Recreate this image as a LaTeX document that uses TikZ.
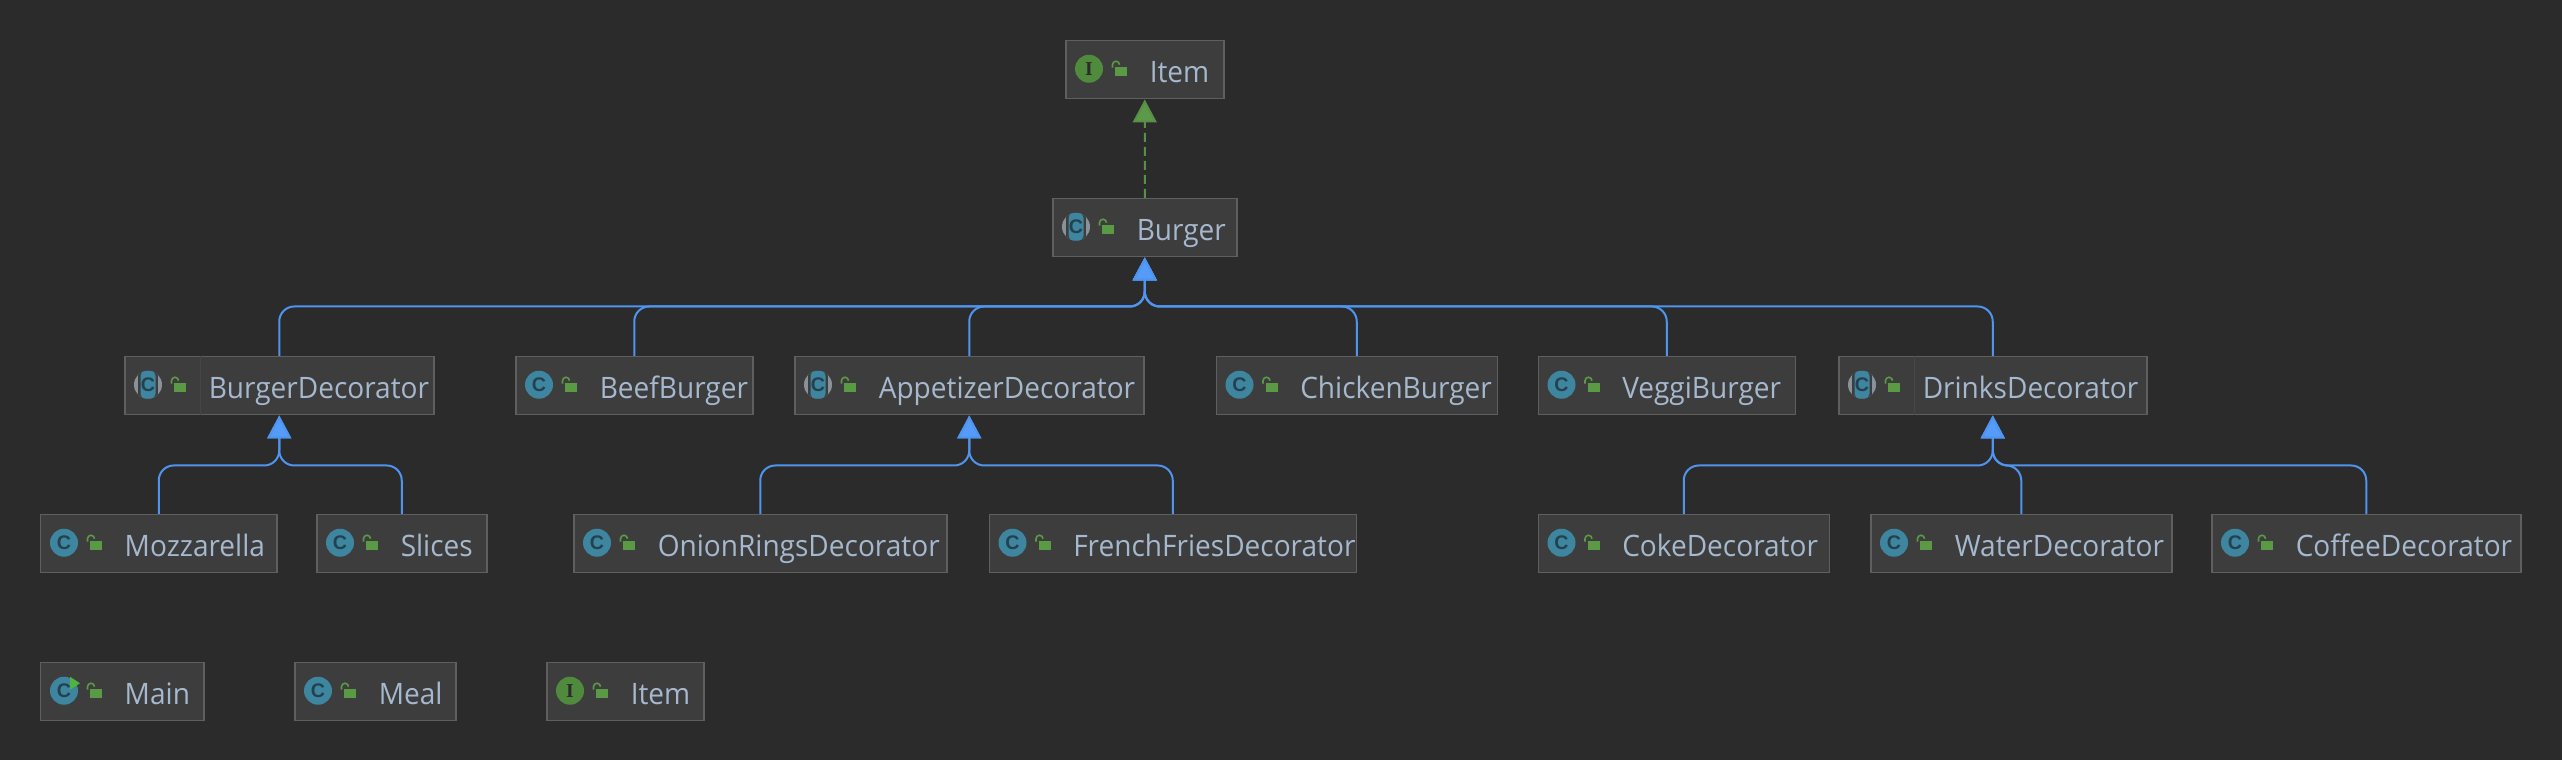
\documentclass[tikz,border=0pt]{standalone}
\usepackage{fontspec}
\usepackage{xcolor}
\usepackage{tikz}
\usetikzlibrary{arrows.meta}
\setmainfont[FakeStretch=0.95]{Open Sans}
\newfontfamily\serifglyph{Liberation Serif}
\newfontfamily\sansglyph{Liberation Sans}
\definecolor{bgdark}{HTML}{2B2B2B}
\definecolor{boxfill}{HTML}{3D3D3D}
\definecolor{boxline}{HTML}{5F5F5F}
\definecolor{divline}{HTML}{464646}
\definecolor{labeltext}{HTML}{A6B8CE}
\definecolor{linkblue}{HTML}{4F94EE}
\definecolor{tipblue}{HTML}{559BFA}
\definecolor{linkgreen}{HTML}{5A8F47}
\definecolor{tipgreen}{HTML}{5C994A}
\definecolor{classblue}{HTML}{3E86A0}
\definecolor{ifacegreen}{HTML}{4F8A3D}
\definecolor{lockgreen}{HTML}{5A9A45}
\definecolor{playgreen}{HTML}{4FB33F}
\definecolor{absgray}{HTML}{8A9199}
\definecolor{glyphdark}{HTML}{24414F}
\tikzstyle{cbox} = [rectangle, anchor=north west, draw=boxline, fill=boxfill, line width=0.015cm, text=labeltext, font=\fontsize{8.4pt}{10pt}\selectfont, minimum height=0.58cm, inner xsep=0pt, inner ysep=0pt, text height=0.30cm, text depth=0.04cm, text width=#1cm, align=left, execute at begin node={\hyphenpenalty=10000\hspace*{0.84cm}}]
\tikzstyle{cglyph} = [inner sep=0pt, text=glyphdark, font=\sansglyph\bfseries\fontsize{5.6pt}{6pt}\selectfont]
\tikzstyle{iglyph} = [inner sep=0pt, text=bgdark, font=\serifglyph\bfseries\fontsize{5.6pt}{6pt}\selectfont]
\tikzstyle{arrow} = [line width=0.02cm, draw=linkblue, rounded corners=0.15cm, -{Triangle[length=0.23cm,width=0.24cm,fill=tipblue]}]
\tikzstyle{implarrow} = [line width=0.02cm, draw=linkgreen, dash pattern=on 0.09cm off 0.05cm, -{Triangle[length=0.23cm,width=0.24cm,fill=tipgreen]}]
\tikzset{
  lockicon/.pic={
    \fill [lockgreen] (0.50,-0.067) rectangle (0.623,0.023);
    \draw [lockgreen, line width=0.016cm] (0.475,0.02) -- (0.475,0.05) arc (180:0:0.035);
  },
  classicon/.pic={
    \fill [classblue] (0.24,0.01) circle (0.14);
    \node (-c) [cglyph] at (0.24,0.01) {C};
    \pic {lockicon};
  },
  absicon/.pic={
    \begin{scope}
      \clip (0.24,0.01) circle (0.14);
      \fill [absgray] (0.1,-0.13) rectangle (0.38,0.15);
      \fill [boxfill] (0.14,-0.13) rectangle (0.34,0.15);
      \fill [classblue, rounded corners=0.05cm] (0.165,-0.13) rectangle (0.315,0.15);
    \end{scope}
    \node (-c) [cglyph] at (0.24,0.01) {C};
    \pic {lockicon};
  },
  ifaceicon/.pic={
    \fill [ifacegreen] (0.24,0.01) circle (0.14);
    \node (-i) [iglyph] at (0.24,0.01) {I};
    \pic {lockicon};
  }
}

\begin{document}
\begin{tikzpicture}
\fill [bgdark] (0,0) rectangle (25.62,-7.6);
\useasboundingbox (0,0) rectangle (25.62,-7.6);

\node (item) [cbox=1.58, xshift=10.65cm, yshift=-0.40cm] {Item};
\node (burger) [cbox=1.84, xshift=10.52cm, yshift=-1.98cm] {Burger};

\node (burgerdec) [cbox=3.09, xshift=1.24cm, yshift=-3.56cm] {BurgerDecorator};
\node (beef) [cbox=2.37, xshift=5.15cm, yshift=-3.56cm] {BeefBurger};
\node (appetizer) [cbox=3.49, xshift=7.94cm, yshift=-3.56cm] {AppetizerDecorator};
\node (chicken) [cbox=2.81, xshift=12.155cm, yshift=-3.56cm] {ChickenBurger};
\node (veggi) [cbox=2.57, xshift=15.375cm, yshift=-3.56cm] {VeggiBurger};
\node (drinks) [cbox=3.08, xshift=18.38cm, yshift=-3.56cm] {DrinksDecorator};

\node (mozzarella) [cbox=2.36, xshift=0.40cm, yshift=-5.14cm] {Mozzarella};
\node (slices) [cbox=1.70, xshift=3.16cm, yshift=-5.14cm] {Slices};
\node (onion) [cbox=3.73, xshift=5.73cm, yshift=-5.14cm] {OnionRingsDecorator};
\node (fries) [cbox=3.67, xshift=9.885cm, yshift=-5.14cm] {FrenchFriesDecorator};
\node (coke) [cbox=2.91, xshift=15.375cm, yshift=-5.14cm] {CokeDecorator};
\node (water) [cbox=3.01, xshift=18.70cm, yshift=-5.14cm] {WaterDecorator};
\node (coffee) [cbox=3.09, xshift=22.11cm, yshift=-5.14cm] {CoffeeDecorator};

\node (main) [cbox=1.63, xshift=0.40cm, yshift=-6.62cm] {Main};
\node (meal) [cbox=1.61, xshift=2.94cm, yshift=-6.62cm] {Meal};
\node (itemkey) [cbox=1.57, xshift=5.46cm, yshift=-6.62cm] {Item};

\foreach \n in {beef, chicken, veggi, mozzarella, slices, onion, fries, coke, water, coffee, main, meal}
  \pic at (\n.west) {classicon};
\foreach \n in {burger, burgerdec, appetizer, drinks}
  \pic at (\n.west) {absicon};
\foreach \n in {item, itemkey}
  \pic at (\n.west) {ifaceicon};
\fill [playgreen] ([shift={(0.30,0.15)}]main.west) -- ([shift={(0.40,0.085)}]main.west) -- ([shift={(0.30,0.02)}]main.west) -- cycle;
\foreach \n in {burgerdec, drinks}
  \draw [divline, line width=0.01cm] ([xshift=0.76cm]\n.north west) -- ([xshift=0.76cm]\n.south west);

\draw [implarrow] (burger.north) -- (item.south);

\foreach \c in {burgerdec, beef, appetizer, chicken, veggi, drinks}
  \draw [arrow] (\c.north) |- ([yshift=-0.49cm]burger.south) -- (burger.south);
\foreach \c in {mozzarella, slices}
  \draw [arrow] (\c.north) |- ([yshift=-0.50cm]burgerdec.south) -- (burgerdec.south);
\foreach \c in {onion, fries}
  \draw [arrow] (\c.north) |- ([yshift=-0.50cm]appetizer.south) -- (appetizer.south);
\foreach \c in {coke, water, coffee}
  \draw [arrow] (\c.north) |- ([yshift=-0.50cm]drinks.south) -- (drinks.south);
\end{tikzpicture}
\end{document}
